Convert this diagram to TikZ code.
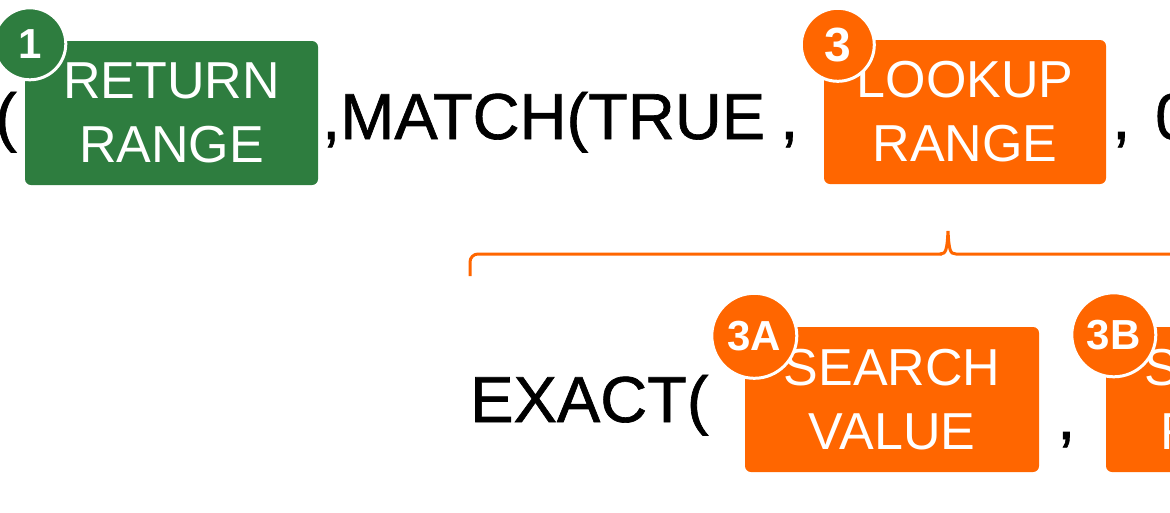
\documentclass[tikz,border=0pt]{standalone}
\usepackage{fontspec}
\setmainfont{Liberation Sans}
\newfontfamily\formulafont[FakeBold=1]{Liberation Sans}
\usetikzlibrary{positioning}
\definecolor{rangegreen}{HTML}{2E7D3F}
\definecolor{lookorange}{HTML}{FF6600}
\tikzstyle{argbox} = [rectangle, rounded corners=6pt, inner sep=0pt, text=white, align=center, font=\fontsize{52}{64}\selectfont]
\tikzstyle{badge} = [circle, draw=white, line width=3pt, inner sep=0pt, text=white, font=\bfseries\fontsize{42}{42}\selectfont]
\tikzstyle{formula} = [anchor=base west, inner sep=0pt, font=\formulafont\fontsize{65}{78}\selectfont]
\tikzstyle{bracket} = [draw=lookorange, line width=3pt]

\begin{document}
\begin{tikzpicture}[x=1pt, y=-1pt]
		\useasboundingbox (0,0) rectangle (1170,512);
		\clip (0,0) rectangle (1170,512);
		% Argument boxes
		\node (ret) [argbox, fill=rangegreen, minimum width=293pt, minimum height=144pt] at (171.5,113) {RETURN\\RANGE};
		\node (look) [argbox, fill=lookorange, minimum width=282pt, minimum height=144pt] at (965,112) {LOOKUP\\RANGE};
		\node (sval) [argbox, fill=lookorange, minimum width=294pt, minimum height=145pt] at (892,399.5) {SEARCH\\VALUE};
		\node (srange) [argbox, fill=lookorange, minimum width=294pt, minimum height=145pt] at (1253,399.5) {SEARCH\\RANGE};
		% Badges
		\node (one) [badge, fill=rangegreen, minimum size=72pt] at ([xshift=5pt, yshift=-3pt]ret.north west) {1};
		\node (three) [badge, fill=lookorange, minimum size=73pt, font=\bfseries\fontsize{48}{48}\selectfont] at ([xshift=14pt, yshift=-5pt]look.north west) {3};
		\node (threeA) [badge, fill=lookorange, minimum size=85pt] at ([xshift=9.5pt, yshift=-9pt]sval.north west) {3A};
		\node (threeB) [badge, fill=lookorange, minimum size=84pt] at ([xshift=8pt, yshift=-8pt]srange.north west) {3B};
		% Formula text
		\node (open) [formula] at (-5,139) {(};
		\node (match) [formula] at (322,139) {,MATCH(TRUE};
		\node (commaA) [formula] at (780,139) {,};
		\node (tail) [formula] at (1112,139) {,\kern 25pt0)};
		\node (exact) [formula] at (470,422) {EXACT(};
		\node (commaB) [formula] at (1057,439) {,};
		% Bracket
		\draw [bracket, rounded corners=8pt] (470,276) |- (942,254);
		\draw [bracket] (940,254) .. controls (946,254) and (947,250) .. (948,231) .. controls (949,250) and (950,254) .. (956,254) -- (1180,254);
	\end{tikzpicture}
\end{document}
